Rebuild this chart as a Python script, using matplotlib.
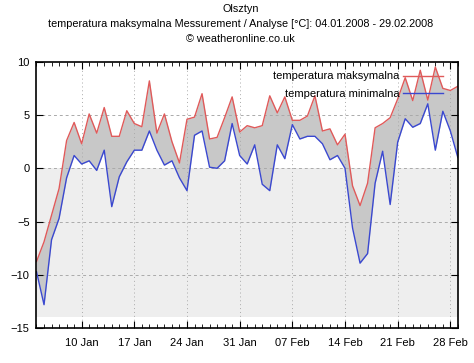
import matplotlib
matplotlib.use("Agg")
import matplotlib.pyplot as plt
import matplotlib.dates as mdates
import numpy as np
import pandas as pd

plt.rcParams['font.family'] = ['Liberation Sans', 'DejaVu Sans']

dates = pd.date_range("2008-01-04", "2008-02-29", freq="D")
t_max = [-8.75, -6.9, -4.4, -1.9, 2.6, 4.3, 2.3, 5.1, 3.3, 5.7,
         3.0, 3.0, 5.4, 4.2, 3.9, 8.2, 3.3, 5.1, 2.5, 0.5,
         4.6, 4.8, 7.0, 2.75, 2.9, 4.75, 6.7, 3.4, 4.0, 3.8,
         4.0, 6.8, 5.2, 6.7, 4.5, 4.5, 4.9, 6.8, 3.5, 3.7,
         2.2, 3.2, -1.65, -3.5, -1.4, 3.8, 4.2, 4.75, 6.5, 8.5,
         6.35, 9.2, 6.4, 9.5, 7.5, 7.3, 7.7]
t_min = [-9.7, -12.8, -6.7, -4.7, -0.9, 1.2, 0.4, 0.7, -0.2, 1.7,
         -3.6, -0.8, 0.6, 1.7, 1.7, 3.5, 1.7, 0.3, 0.7, -0.9,
         -2.1, 3.1, 3.5, 0.1, 0.0, 0.7, 4.2, 1.2, 0.4, 2.2,
         -1.5, -2.1, 2.2, 0.9, 4.1, 2.75, 3.0, 3.0, 2.3, 0.8,
         1.2, 0.0, -5.6, -8.9, -8.0, -1.4, 1.6, -3.4, 2.45, 4.65,
         3.85, 4.2, 6.05, 1.7, 5.35, 3.5, 1.0]
y_ticks = [-15, -10, -5, 0, 5, 10]
x_tick_dates = pd.date_range("2008-01-10", "2008-02-28", freq="7D")
x_tick_labels = ["10 Jan", "17 Jan", "24 Jan", "31 Jan", "07 Feb", "14 Feb", "21 Feb", "28 Feb"]
title_lines = ["Olsztyn",
               "temperatura maksymalna Messurement / Analyse [°C]: 04.01.2008 - 29.02.2008",
               "© weatheronline.co.uk"]
label_max = "temperatura maksymalna"
label_min = "temperatura minimalna"

fig = plt.figure(figsize=(4.74, 3.63), dpi=100)
ax = fig.add_axes([0.077, 0.096, 0.889, 0.734])

x0, x1 = dates[0], dates[-1]
ax.set_xlim(x0, x1)
ax.set_ylim(-15, 10)

# light background below zero
ax.fill_between([x0, x1], -14, 0, color='#eeeeee', zorder=0, lw=0)
# band between min and max
ax.fill_between(dates, t_min, t_max, color='#c8c8c8', zorder=1, lw=0)
ax.plot(dates, t_max, color='#e05a5a', lw=1.0, zorder=3, label=label_max)
ax.plot(dates, t_min, color='#3a48d0', lw=1.0, zorder=3, label=label_min)

# grid
for v in [-10, -5, 0, 5]:
    ax.axhline(v, color='#aaaaaa', lw=0.7, ls=(0, (3, 3)), zorder=2)
ax.set_xticks(x_tick_dates)
ax.set_xticklabels(x_tick_labels)
ax.xaxis.set_minor_locator(mdates.DayLocator())
ax.grid(axis='x', which='major', color='#aaaaaa', lw=0.7, ls=(0, (1, 3)), zorder=2)
ax.set_axisbelow(False)

ax.set_yticks(y_ticks)
ax.tick_params(axis='both', which='major', direction='in', length=5, width=0.8,
               labelsize=8, top=True, right=True, pad=5, colors='black')
ax.tick_params(axis='x', which='minor', direction='in', length=3, width=0.6,
               top=True)
ax.tick_params(axis='x', which='major', pad=7)
for s in ax.spines.values():
    s.set_linewidth(1.2)
    s.set_zorder(5)

leg = ax.legend(loc='upper right', bbox_to_anchor=(0.975, 0.98), frameon=False,
                markerfirst=False, fontsize=8, handlelength=3.6,
                handletextpad=0.3, labelspacing=0.7, borderaxespad=0)

fig.text(0.507, 0.988, title_lines[0], ha='center', va='top', fontsize=7.8)
fig.text(0.507, 0.948, title_lines[1], ha='center', va='top', fontsize=7.8)
fig.text(0.507, 0.907, title_lines[2], ha='center', va='top', fontsize=7.8)

fig.savefig("out.png", dpi=100)
